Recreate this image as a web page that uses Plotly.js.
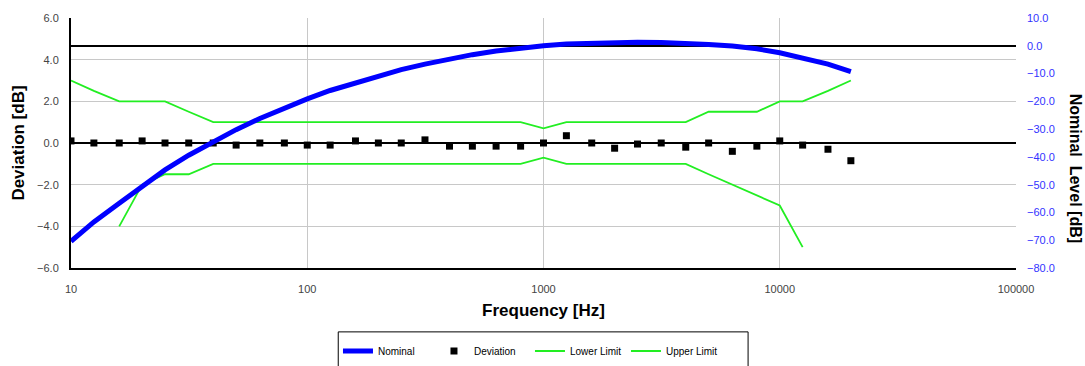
<!DOCTYPE html>
<html>
<head>
<meta charset="utf-8">
<script src="https://cdn.plot.ly/plotly-3.0.1.min.js"></script>
<style>
html,body{margin:0;padding:0;background:#fff;}
#chart{width:1085px;height:366px;}
</style>
</head>
<body>
<div id="chart"></div>
<script>
// Third-octave frequencies [Hz]
const frequencies = [10,12.5,16,20,25,31.5,40,50,63,80,100,125,160,200,250,315,400,500,630,800,1000,1250,1600,2000,2500,3150,4000,5000,6300,8000,10000,12500,16000,20000];
// Nominal level [dB] (right axis)
const nominal = [-70.4,-63.4,-56.7,-50.5,-44.7,-39.4,-34.6,-30.2,-26.2,-22.5,-19.1,-16.1,-13.4,-10.9,-8.6,-6.6,-4.8,-3.2,-1.9,-0.8,0.0,0.6,1.0,1.2,1.3,1.2,1.0,0.5,-0.1,-1.1,-2.5,-4.3,-6.6,-9.3];
// Measured deviation [dB] (left axis)
const deviation = [0.1,0.0,0.0,0.1,0.0,0.0,0.0,-0.1,0.0,0.0,-0.1,-0.1,0.1,0.0,0.0,0.15,-0.15,-0.15,-0.15,-0.15,0.0,0.35,0.0,-0.25,-0.05,0.0,-0.2,0.0,-0.4,-0.15,0.1,-0.1,-0.3,-0.85];
// Tolerance limits [dB]
const lowerLimit = [null,null,-4.0,-2.0,-1.5,-1.5,-1.0,-1.0,-1.0,-1.0,-1.0,-1.0,-1.0,-1.0,-1.0,-1.0,-1.0,-1.0,-1.0,-1.0,-0.7,-1.0,-1.0,-1.0,-1.0,-1.0,-1.0,-1.5,-2.0,-2.5,-3.0,-5.0,null,null];
const upperLimit = [3.0,2.5,2.0,2.0,2.0,1.5,1.0,1.0,1.0,1.0,1.0,1.0,1.0,1.0,1.0,1.0,1.0,1.0,1.0,1.0,0.7,1.0,1.0,1.0,1.0,1.0,1.0,1.5,1.5,1.5,2.0,2.0,2.5,3.0];
// Axis tick labels
const xTickVals = [10,100,1000,10000,100000];
const xTickText = ['10','100','1000','10000','100000'];

const FONT = '"Liberation Sans", Arial, sans-serif';
const GREEN = '#22ee22';

const traces = [
  {x: frequencies, y: nominal, name: 'Nominal', type: 'scatter', mode: 'lines', yaxis: 'y2',
   line: {color: '#0000ff', width: 5}},
  {x: frequencies, y: deviation, name: 'Deviation', type: 'scatter', mode: 'markers',
   marker: {symbol: 'square', color: '#000000', size: 7}},
  {x: frequencies, y: lowerLimit, name: 'Lower Limit', type: 'scatter', mode: 'lines',
   line: {color: GREEN, width: 1.8}},
  {x: frequencies, y: upperLimit, name: 'Upper Limit', type: 'scatter', mode: 'lines',
   line: {color: GREEN, width: 1.8}}
];

const layout = {
  width: 1085, height: 366,
  margin: {l: 71, r: 69, t: 18, b: 98, pad: 0},
  paper_bgcolor: '#ffffff', plot_bgcolor: '#ffffff',
  font: {family: FONT, size: 11, color: '#444444'},
  showlegend: true,
  legend: {orientation: 'h', xref: 'container', yref: 'container', x: 0.3115, xanchor: 'left', y: 0.041, yanchor: 'middle',
    borderwidth: 0, bgcolor: 'rgba(0,0,0,0)', font: {size: 10, color: '#000000'},
    traceorder: 'normal', itemwidth: 30, entrywidth: 51, entrywidthmode: 'pixels'},
  shapes: [
    {type: 'rect', xref: 'paper', yref: 'paper', x0: 0.2828, x1: 0.7165, y0: -0.2555, y1: -0.45,
     line: {color: '#000000', width: 1}, fillcolor: 'rgba(0,0,0,0)'}
  ],
  xaxis: {type: 'log', range: [1, 5], tickvals: xTickVals, ticktext: xTickText, automargin: false,
    showgrid: true, gridcolor: '#c8c8c8', gridwidth: 1,
    showline: true, linecolor: '#000000', linewidth: 2,
    ticks: '', ticklabelstandoff: 10, tickfont: {size: 11, color: '#444444'},
    zeroline: false,
    title: {text: 'Frequency [Hz]', font: {size: 17, color: '#000000', family: FONT, weight: 'bold'}, standoff: 10}},
  yaxis: {range: [-6, 6], dtick: 2, tick0: 0, tickformat: '.1f', automargin: false,
    showgrid: true, gridcolor: '#c8c8c8', gridwidth: 1,
    showline: true, linecolor: '#000000', linewidth: 2,
    zeroline: true, zerolinecolor: '#000000', zerolinewidth: 1.5,
    ticks: '', ticklabelstandoff: 8, tickfont: {size: 11, color: '#444444'},
    title: {text: 'Deviation [dB]', font: {size: 17, color: '#000000', family: FONT, weight: 'bold'}, standoff: 8}},
  yaxis2: {overlaying: 'y', side: 'right', range: [-80, 10], dtick: 10, tick0: 0, tickformat: '.1f', automargin: false,
    showgrid: false, showline: false,
    zeroline: true, zerolinecolor: '#000000', zerolinewidth: 1.5,
    ticks: '', ticklabelstandoff: 10, tickfont: {size: 11, color: '#3333ff'}},
  annotations: [
    {text: '<b>Nominal  Level [dB]</b>', xref: 'paper', yref: 'paper', x: 1.0625, y: 0.401,
     xanchor: 'center', yanchor: 'middle', textangle: 90, showarrow: false,
     font: {size: 16, color: '#000000', family: FONT}}
  ]
};

Plotly.newPlot('chart', traces, layout, {displayModeBar: false, staticPlot: true});
</script>
</body>
</html>
